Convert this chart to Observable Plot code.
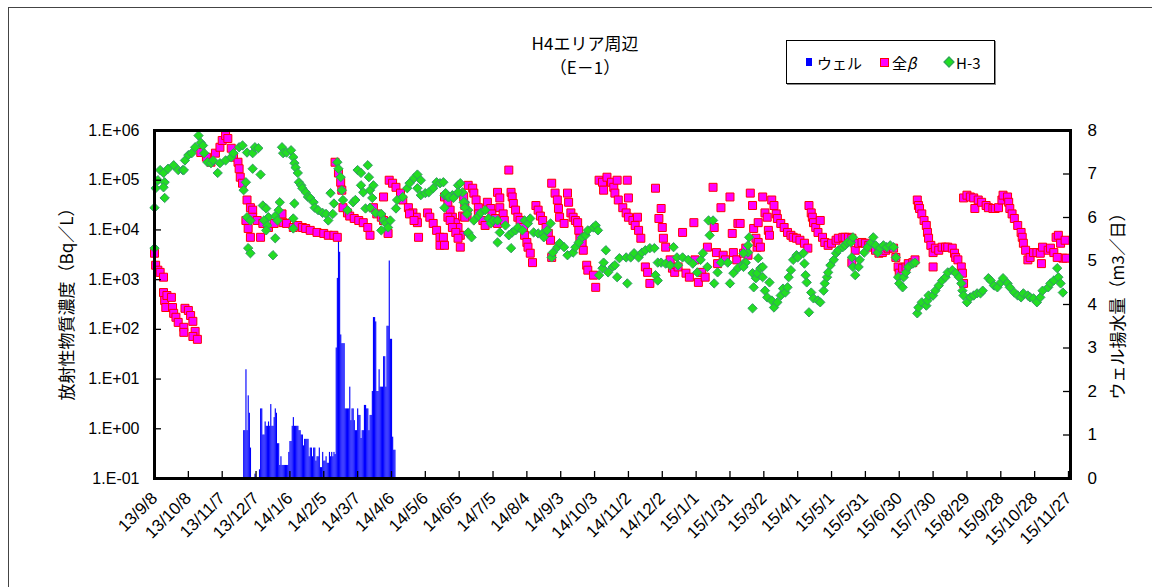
<!DOCTYPE html>
<html><head><meta charset="utf-8">
<script src="https://cdn.jsdelivr.net/npm/d3@7"></script>
<script src="https://cdn.jsdelivr.net/npm/@observablehq/plot@0.6"></script>
<style>
body{margin:0;background:#fff;font-family:"Liberation Sans","Noto Sans CJK JP",sans-serif;}
#wrap{position:relative;width:1152px;height:587px;overflow:hidden;background:#fff;}
#wrap svg{position:absolute;left:0;top:0;}
.abs{position:absolute;white-space:nowrap;color:#000;}
.border{position:absolute;left:8px;top:7px;width:1200px;height:700px;border:1.5px solid #444;box-sizing:border-box;}
.title{font-family:"Noto Sans CJK JP",sans-serif;font-size:17px;transform:translate(-50%,-50%);}
.legend{left:786px;top:40px;width:209px;height:44px;border:1.5px solid #000;box-sizing:border-box;box-shadow:1px 1px 0 #888;}
.leg{font-family:"Noto Sans CJK JP",sans-serif;font-size:15px;transform:translateY(-50%);}
.ylab{font-family:"Noto Sans CJK JP",sans-serif;font-size:17px;transform:translate(-50%,-50%) rotate(-90deg);}
</style></head>
<body>
<div id="wrap">
  <div class="border"></div>
</div>
<script>
// ---------------- data ----------------
const START = "2013-09-08";
const xTickLabels = ["13/9/8","13/10/8","13/11/7","13/12/7","14/1/6","14/2/5","14/3/7","14/4/6","14/5/6","14/6/5","14/7/5","14/8/4","14/9/3","14/10/3","14/11/2","14/12/2","15/1/1","15/1/31","15/3/2","15/4/1","15/5/1","15/5/31","15/6/30","15/7/30","15/8/29","15/9/28","15/10/28","15/11/27"];
const yTickValues = [0.1, 1, 10, 100, 1000, 10000, 100000, 1000000];
const yTickLabels = ["1.E-01","1.E+00","1.E+01","1.E+02","1.E+03","1.E+04","1.E+05","1.E+06"];
const wellTickValues = [0,1,2,3,4,5,6,7,8];

// ウェル揚水量 (m3/日), daily from wellStart
const wellStart = "2013-11-26";
const wellValues = [
 1.1,1.1,2.5,1.1,1.9,1.5,0.7,0,0,0,
 0.1,0,0,0,0.2,1.6,1.6,1.0,1.0,1.3,
 1.2,1.2,1.3,1.2,1.7,1.2,1.2,1.4,1.6,1.5,
 0.8,0.8,0.3,0.5,0.3,0.3,0.3,0.3,0.3,0.3,
 0.6,0.85,0.85,1.2,1.4,1.2,1.2,1.2,1.2,1.1,
 1.1,1.0,1.0,0.75,0.9,0.9,0.9,0.9,0.5,0.7,
 0.7,0.5,0.7,0.7,0.4,0.5,0.5,0.7,0.25,0.25,
 0.6,0.4,0.4,0.5,0.35,0.35,0.6,0.5,0.6,0.5,
 0.6,0.55,3.0,4.6,5.6,5.2,3.3,3.1,3.1,3.1,
 1.6,1.6,1.6,1.6,2.1,1.33,1.6,1.6,1.33,1.1,
 1.1,1.6,1.45,1.45,0.92,1.1,1.1,1.68,1.68,1.6,
 1.6,1.1,1.45,1.45,2.0,3.7,3.7,3.6,2.0,2.0,
 2.5,2.1,2.1,2.1,2.8,2.8,2.1,3.5,3.5,5.0,
 3.2,3.2,0.95,0.65,0.65
];

// 全β (Bq/L): [days since START, value]
const beta = [
 [0,3400],[1,1950],[3,1550],[5,1400],[8,1120],[8,550],[9,380],[11,480],[15,440],[10,275],[16,275],[17,210],[19,175],[21,138],[26,110],[26,87],[27,265],[30,240],[32,190],[34,145],[36,91],[34,72],[38,63],
 [41,360000],[46,290000],[50,230000],[54,350000],[58,460000],[60,630000],[63,790000],[65,690000],[68,440000],[70,290000],[74,230000],[75,170000],[76,115000],[78,87000],[82,40000],[81,15500],[85,28000],[87,25000],[83,10700],[87,18000],[85,7100],[94,7100],[91,15500],[96,13500],[101,11200],[106,13500],[113,21000],[114,14000],[117,13500],[123,11200],[127,12300],[131,11200],[134,10700],[138,9800],[144,8900],[150,8500],[154,7800],[159,7800],[162,7100],
 [160,230000],[163,140000],[165,91000],[166,63000],[167,28000],[171,22000],[173,19000],[177,17000],[181,15500],[185,14000],[189,11200],[191,7800],[194,28000],[197,21000],[201,18000],[203,15500],[207,8500],[203,46000],[208,100000],[211,87000],[214,72000],[218,55000],[220,40000],[225,28000],[229,22000],[232,18000],[233,14000],[234,7100],[226,21000],[230,15500],[242,22000],[244,18000],[247,13500],[250,9800],[253,7100],[253,4900],[257,46000],[260,34000],[262,25000],[264,18000],[267,14000],[269,11200],[271,7800],[271,4500],[274,46000],[275,31000],[277,19000],
 [256,7100],[257,4900],[260,18000],[262,15500],[264,11200],[267,8900],[269,6800],[273,19000],[275,18000],[278,79000],[282,69000],[283,55000],[285,40000],[287,28000],[287,21000],[291,15500],[293,12300],[295,36000],[298,27000],[299,21000],[302,17000],[304,13500],[304,57000],[306,44000],[306,28000],[309,21000],[310,15500],[314,160000],[316,57000],[317,46000],[318,34000],[320,25000],[322,18000],[324,15500],[327,11200],[328,7800],[330,5600],[331,4500],[333,3400],[335,2200],[338,31000],[340,25000],[342,19000],[344,15500],[347,11200],[349,8500],[351,6200],[352,2800],[352,87000],[355,55000],[357,40000],[358,27000],[359,18000],[363,13500],[366,55000],[367,36000],[369,22000],[371,18000],[373,15500],[375,14000],[376,9800],[377,6800],[379,5400],[380,3900],[383,1950],[384,1550],[389,1230],[391,700],
 [394,100000],[397,91000],[398,63000],[401,115000],[405,91000],[407,72000],[410,100000],[408,55000],[411,40000],[415,28000],[418,22000],[420,18000],[424,15500],[426,12300],[429,9800],[431,6800],[419,100000],[420,44000],[428,18000],[435,1800],[437,1400],[439,840],[444,69000],[447,17000],[449,27000],[450,11200],[451,6800],[453,4500],[457,2500],[459,1700],[461,1400],[464,1800],[468,8900],[471,1350],[474,1120],[478,14000],[479,2500],[482,880],[485,1400],[488,1120],[490,4500],[495,72000],[496,11200],[498,3500],[499,2100],[502,28000],[504,3100],[506,2500],[510,46000],[512,8500],[513,3500],[516,2500],[517,13500],[522,3400],[524,4300],[528,55000],[530,31000],[531,10700],[533,6800],[534,4500],
 [519,13500],[526,3100],[535,5600],[537,4500],[535,14000],[539,46000],[541,22000],[543,18000],[544,9800],[545,7800],[547,40000],[549,31000],[551,21000],[552,17000],[555,13500],[558,11200],[561,8900],[564,7800],[566,7100],[569,6800],[572,6200],[576,5400],[579,4300],[580,31000],[582,22000],[583,18000],[584,14000],[586,11200],[588,8900],[590,15500],[592,7100],[594,5600],[597,4900],[600,5400],[604,6200],[606,6800],[610,7100],[612,7100],[615,7100],[618,6800],[618,2200],[621,3900],[624,5400],[627,5600],[630,5400],[633,4900],[636,4500],[639,3900],[642,3400],[645,3500],[648,3900],[650,4300],[655,4300],[657,2800],[659,1800],[660,1350],[663,1700],[666,1800],[668,2100],[672,2200],[674,2500],
 [676,40000],[677,31000],[678,27000],[680,21000],[682,15500],[684,12300],[685,8900],[686,6800],[688,4900],[690,3500],[690,1800],[692,4300],[695,3900],[698,4500],[701,4500],[703,4500],[707,4300],[709,3400],[710,2800],[712,2500],[715,1800],[716,1350],[717,840],
 [717,44000],[720,50000],[723,46000],[726,44000],[727,27000],[730,40000],[733,36000],[737,31000],[739,28000],[743,27000],[745,27000],[748,28000],[751,40000],[752,50000],[756,46000],[757,36000],[758,27000],[760,21000],[762,17000],[765,12300],[768,8900],[769,7100],[770,5400],[772,3900],[774,2500],[776,2800],[779,3500],[782,3500],[785,3400],[786,2100],[787,4500],[792,3900],[794,4300],[797,3500],[799,7100],[801,7800],[803,5400],[805,2700],[800,2800],[807,6200],[808,2700]
];

// H-3 (Bq/L): [days since START, value]
const h3 = [
 [0,4300],[0,28000],[1,69000],[3,100000],[5,160000],[8,140000],[9,91000],[9,44000],[8,72000],[12,170000],
 [17,200000],[21,160000],[25,160000],[26,160000],[27,250000],[30,320000],[33,350000],[36,460000],[39,790000],[41,570000],[43,500000],[44,350000],[47,230000],[50,220000],[52,250000],[56,140000],[58,220000],[63,250000],[68,290000],[70,350000],[75,460000],[78,500000],[82,360000],[87,350000],[89,460000],[92,440000],[87,170000],[94,130000],[81,91000],[79,63000],
 [96,31000],[99,27000],[101,18000],[97,15500],[100,12300],[99,9800],[107,19000],[111,36000],[110,25000],[109,15500],[107,6800],[105,3100],[83,4300],[85,3400],[82,18000],[85,15500],[124,34000],[123,17000],[123,10700],
 [113,460000],[114,350000],[117,360000],[121,400000],[123,290000],[124,220000],[125,180000],[127,140000],[128,91000],[130,79000],[131,69000],[134,57000],[136,46000],[138,44000],[141,36000],[142,28000],[145,25000],[149,22000],[152,21000],[154,15500],[158,21000],[156,55000],[159,34000],[162,230000],[163,170000],[165,115000],[166,63000],[167,40000],[171,25000],[176,36000],[178,40000],[180,160000],[183,140000],[189,200000],[190,115000],[183,79000],[185,57000],[191,63000],[194,79000],[193,44000],[187,27000],[191,28000],[196,22000],[201,21000],[203,15500],[205,13500],[207,11200],[201,9800],[209,15500],[214,27000],[215,40000],[220,46000],[224,69000],[226,87000],[230,110000],[233,130000],[236,100000],[233,69000],[236,50000],[240,55000],[243,57000],[247,69000],[250,91000],[253,87000],[257,50000],[260,46000],[264,50000],[267,50000],[269,79000],[273,57000],[275,36000],[278,25000],[278,8500],
 [256,91000],[258,55000],[257,28000],[261,46000],[265,44000],[269,57000],[271,87000],[274,36000],[275,28000],[277,21000],[278,8900],[281,7100],[283,15500],[287,19000],[289,22000],[293,25000],[296,17000],[298,13500],[300,15500],[304,15500],[304,5600],[306,8900],[311,12300],[314,7800],[316,4300],[317,8900],[320,9800],[322,11200],[326,9800],[328,15500],[331,13500],[333,17000],[336,8900],[340,8500],[344,8500],[345,7100],[348,9800],[351,13500],[352,2800],[353,3500],[357,4500],[359,5400],[363,4500],[366,3100],[371,3500],[373,4500],[376,5600],[379,7100],[382,7800],[384,9800],[389,11200],[391,12300],[393,9800],
 [394,1230],[397,1700],[398,2200],[400,3900],[402,1400],[406,1800],[408,1950],[410,1120],[412,2700],[418,2800],[419,840],[422,2800],[425,3400],[429,2800],[432,3500],[435,3900],[439,4300],[443,4300],[444,1230],[446,960],[446,2200],[449,2200],[453,2100],[457,1950],[460,4500],[463,2800],[464,1950],[468,2800],[473,2500],[477,2100],[481,1400],[484,2500],[486,3400],[490,1800],[491,15500],[495,15500],[492,7800],[496,840],[499,1400],[502,2200],[508,2200],[510,840],[513,1350],[517,1700],[522,2100],[526,3500],[527,7100],[530,1350],[531,700],[530,265],[533,1070],[534,1350],
 [526,4900],[522,3400],[524,2200],[522,1800],[535,2700],[537,1700],[539,1120],[539,1800],[541,600],[543,440],[545,880],[547,380],[549,275],[552,350],[555,480],[557,660],[559,550],[561,700],[562,1120],[564,1550],[566,2500],[569,3100],[570,2800],[575,3400],[576,2100],[577,1230],[578,880],[580,220],[582,550],[584,420],[588,380],[590,350],[593,600],[594,840],[596,1120],[597,1400],[599,1950],[602,2500],[604,3400],[606,3900],[610,4500],[612,4900],[614,5600],[617,5600],[619,7100],[618,2800],[619,1800],[621,1230],[624,1800],[625,2500],[629,3500],[632,4500],[635,5600],[637,7100],[639,4900],[641,3500],[643,4300],[646,4900],[649,4500],[652,4900],[655,4500],[657,2800],[659,1120],[660,840],[663,700],[664,1120],[666,1400],[668,1800],[672,2100],[674,2200],
 [676,210],[677,275],[680,350],[684,300],[685,380],[686,480],[690,480],[692,600],[695,760],[698,960],[701,1120],[703,1400],[707,1550],[710,1350],[713,1120],[715,840],[716,600],[717,480],[720,350],[723,440],[726,480],[729,530],[732,530],[734,600],[739,1070],[741,960],[744,760],[747,700],[750,880],[752,1070],[756,840],[758,700],[762,550],[765,480],[768,440],[770,530],[774,480],[776,440],[779,420],[782,350],[785,440],[787,600],[792,700],[794,840],[797,960],[800,1700],[801,1120],[803,840],[805,550]
];

// ---------------- build ----------------
const parseTick = d3.utcParse("%y/%m/%d");
const start = d3.utcParse("%Y-%m-%d")(START);
const xTicks = xTickLabels.map(parseTick);
const tickLabelMap = new Map(xTicks.map((d, i) => [+d, xTickLabels[i]]));
const ws = d3.utcParse("%Y-%m-%d")(wellStart);
const wellData = wellValues.map((v, i) => ({date: d3.utcDay.offset(ws, i), v}));
const betaData = beta.map(([d, v]) => ({date: d3.utcDay.offset(start, d), v}));
const h3Data = h3.map(([d, v]) => ({date: d3.utcDay.offset(start, d), v}));

const W = 1152, H = 587, mL = 154, mR = 82, mT = 130, mB = 109;
const plotW = W - mL - mR, plotH = H - mT - mB;
const xOpts = {type: "utc", domain: [xTicks[0], xTicks[xTicks.length - 1]], range: [154, 1068]};
const font = {fontFamily: "'Liberation Sans', 'Noto Sans CJK JP', sans-serif", fontSize: "16px", background: "transparent", overflow: "visible"};

const barsPlot = Plot.plot({
  width: W, height: H, marginLeft: mL, marginRight: mR, marginTop: mT, marginBottom: mB,
  style: font,
  x: xOpts,
  y: {type: "linear", domain: [0, 8]},
  marks: [
    Plot.rectY(wellData, {x: "date", y: "v", interval: d3.utcDay, fill: "#0000FF", inset: 0}),
    Plot.ruleY(wellTickValues, {y: d => d, insetLeft: plotW - 7, stroke: "#000", strokeWidth: 1.3}),
    Plot.axisY({anchor: "right", ticks: wellTickValues, tickFormat: d => String(d), tickSize: 0, tickPadding: 17, fontSize: 17, label: null}),
    Plot.axisX({ticks: [], label: null, tickSize: 0})
  ]
});

const mainPlot = Plot.plot({
  width: W, height: H, marginLeft: mL, marginRight: mR, marginTop: mT, marginBottom: mB,
  style: font,
  x: xOpts,
  y: {type: "log", domain: [0.1, 1e6]},
  marks: [
    Plot.dot(betaData, {x: "date", y: "v", symbol: "square", r: 4.5, fill: "#FF00FF", stroke: "#FF0000", strokeWidth: 1}),
    Plot.dot(h3Data, {x: "date", y: "v", symbol: "diamond2", r: 4.2, fill: "#22DD22", stroke: "#339966", strokeWidth: 1}),
    Plot.ruleX(xTicks, {x: d => d, insetTop: plotH - 7, stroke: "#000", strokeWidth: 1.3}),
    Plot.ruleY(yTickValues, {y: d => d, insetRight: plotW - 7, stroke: "#000", strokeWidth: 1.3}),
    Plot.axisY({anchor: "left", ticks: yTickValues, tickFormat: d => yTickLabels[yTickValues.indexOf(d)], tickSize: 0, tickPadding: 15, fontSize: 16, label: null}),
    Plot.axisX({anchor: "bottom", ticks: xTicks, tickFormat: d => tickLabelMap.get(+d), tickRotate: -45, tickSize: 0, tickPadding: 17, fontSize: 17, label: null}),
    Plot.frame({stroke: "#000", strokeWidth: 3})
  ]
});

const wrap = document.getElementById("wrap");
wrap.appendChild(barsPlot);
wrap.appendChild(mainPlot);

function addDiv(cls, html, style) {
  const el = document.createElement("div");
  el.className = "abs " + cls;
  el.innerHTML = html;
  Object.assign(el.style, style);
  wrap.appendChild(el);
  return el;
}
addDiv("title", "H4エリア周辺", {left: "585px", top: "42px"});
addDiv("title", "（E－1）", {left: "585px", top: "66px"});
addDiv("legend", "", {});
addDiv("", "", {left: "806px", top: "58px", width: "6px", height: "8px", background: "#0000FF"});
addDiv("leg", "ウェル", {left: "817px", top: "62px"});
addDiv("", "", {left: "880px", top: "58px", width: "7px", height: "7px", background: "#FF00FF", border: "1px solid #FF0000"});
addDiv("leg", "全<i>β</i>", {left: "892px", top: "62px"});
addDiv("", "", {left: "945px", top: "58px", width: "6px", height: "6px", background: "#22DD22", border: "1px solid #339966", transform: "rotate(45deg)"});
addDiv("leg", "H-3", {left: "956px", top: "62px"});
addDiv("ylab", "放射性物質濃度（Bq／L）", {left: "65px", top: "300px"});
addDiv("ylab", "ウェル揚水量（m3／日）", {left: "1116px", top: "302px"});
</script>
</body></html>
